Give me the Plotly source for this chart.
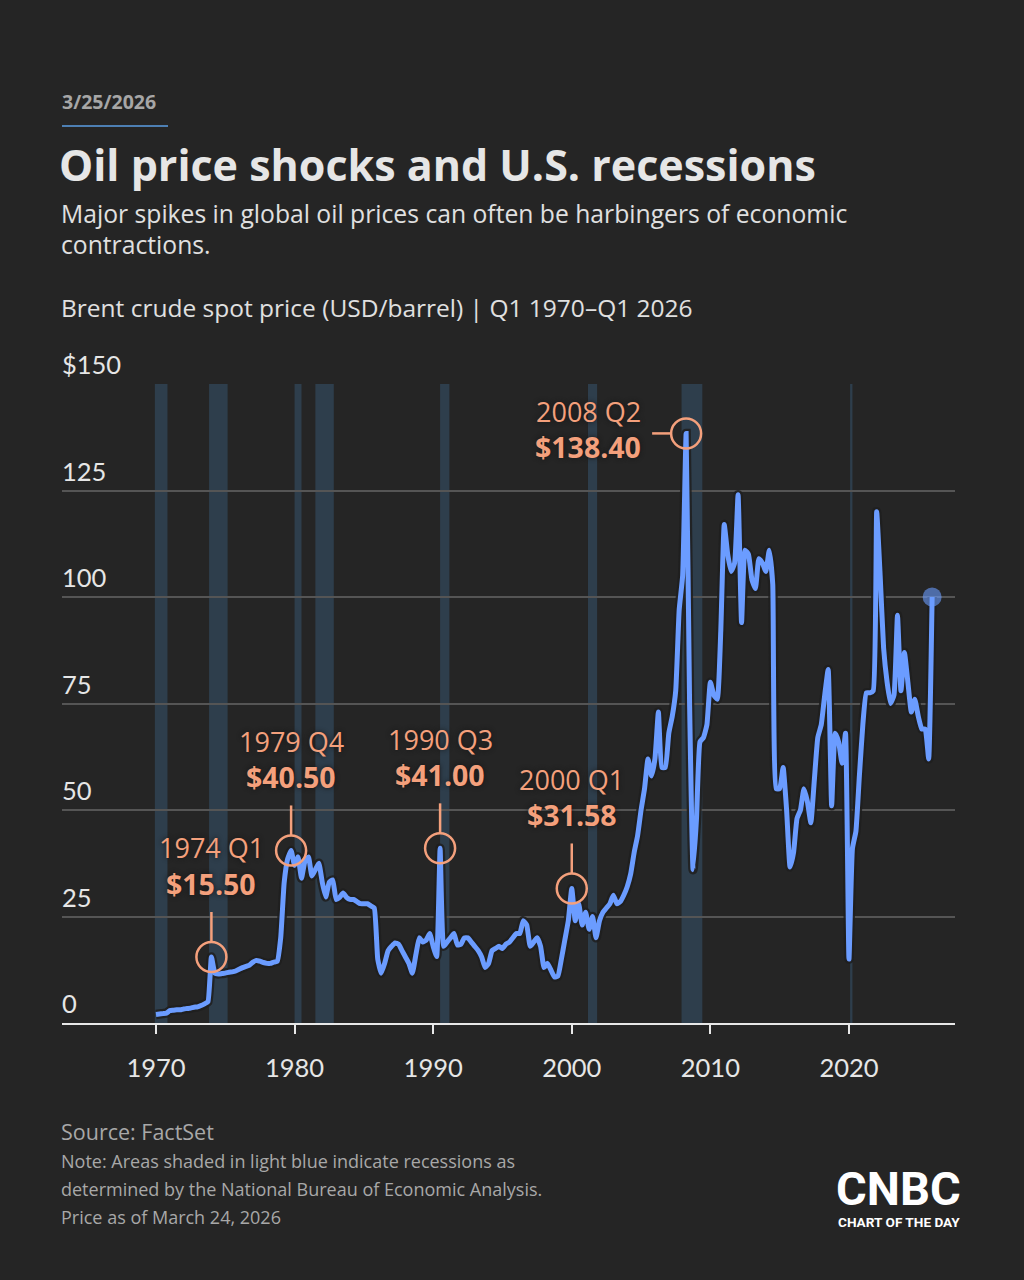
import plotly.graph_objects as go

# ---------------- data ----------------
start_year = 1970
prices_1970s = [2.0, 2.1, 2.2, 2.3, 2.9, 3.0, 3.1, 3.1, 3.3, 3.4, 3.5, 3.7, 3.8, 4.1, 4.5, 5.0,
                15.5, 11.7, 11.5, 11.6, 11.7, 11.9, 12.0, 12.2, 12.6, 13.0, 13.3, 13.6,
                14.3, 14.7, 14.5, 14.2, 14.0, 14.0, 14.3, 14.5, 20.0, 33.0, 38.5, 40.5]
prices_1980s = [37.0, 39.0, 34.0, 38.0, 39.0, 34.5, 36.0, 37.5, 33.0, 29.6, 33.0, 33.6,
                29.0, 29.5, 30.5, 29.5, 29.0, 29.0, 28.5, 28.0, 28.0, 28.0, 27.5, 27.0,
                15.0, 11.7, 14.0, 17.0, 18.0, 18.8, 18.5, 17.0, 15.5, 14.0, 11.7, 16.0,
                20.0, 19.0, 19.5, 21.0]
prices_1990s = [18.0, 15.6, 41.0, 18.0, 19.0, 20.0, 21.0, 18.3, 18.5, 20.0, 20.0, 19.0,
                18.0, 17.0, 15.5, 13.0, 14.0, 17.0, 17.5, 18.0, 17.5, 18.5, 19.0, 20.0,
                21.0, 21.0, 24.0, 23.0, 18.0, 19.0, 20.0, 18.0, 13.0, 14.0, 12.4, 10.8,
                11.0, 15.0, 19.5, 24.0]
prices_2000s = [31.58, 24.0, 28.0, 23.0, 26.0, 22.0, 25.0, 20.0, 24.0, 26.0, 27.0, 28.0,
                30.0, 28.0, 28.5, 30.0, 32.0, 35.0, 40.0, 44.0, 50.0, 55.0, 62.0, 58.0,
                62.0, 73.0, 60.0, 60.0, 68.0, 72.0, 78.0, 97.0, 105.0, 138.4, 75.0, 36.0,
                48.0, 66.0, 67.0, 70.0]
prices_2010s = [80.0, 77.0, 76.0, 92.0, 117.0, 110.0, 106.0, 108.0, 124.0, 94.0, 111.0, 110.0,
                104.0, 102.0, 109.0, 108.0, 106.0, 111.0, 103.0, 55.0, 55.0, 60.0, 50.0, 36.6,
                40.0, 48.0, 50.0, 55.0, 52.0, 47.0, 57.0, 67.0, 70.0, 77.0, 83.0, 51.0,
                68.0, 66.0, 61.0, 68.0]
prices_2020s = [15.0, 41.0, 45.0, 58.0, 70.0, 77.5, 77.5, 78.0, 120.0, 105.0, 88.0, 80.0,
                75.0, 77.0, 95.7, 78.0, 87.0, 80.0, 73.0, 76.0, 72.0, 69.0, 69.0, 62.0,
                100.0]

recession_starts = [1969.92, 1973.83, 1980.00, 1981.50, 1990.50, 2001.17, 2007.92, 2020.08]
recession_ends = [1970.83, 1975.17, 1980.50, 1982.83, 1991.17, 2001.83, 2009.42, 2020.25]

highlight_quarters = ["1974 Q1", "1979 Q4", "1990 Q3", "2000 Q1", "2008 Q2"]
highlight_prices = [15.50, 40.50, 41.00, 31.58, 138.40]

y_ticks = [0, 25, 50, 75, 100, 125, 150]
y_tick_labels = ["0", "25", "50", "75", "100", "125", "$150"]
x_ticks = [1970, 1980, 1990, 2000, 2010, 2020]
x_tick_labels = ["1970", "1980", "1990", "2000", "2010", "2020"]

# ---------------- build ----------------
prices = prices_1970s + prices_1980s + prices_1990s + prices_2000s + prices_2010s + prices_2020s
xq = [start_year + i / 4 for i in range(len(prices))]

def qpos(label):
    y, q = label.split(" Q")
    return int(y) + (int(q) - 1) / 4

BG = "#252525"
BLUE = "#6b9cff"
ORANGE = "#f4a07c"
FONT = "Lato"
TFONT = "Open Sans"

W, H = 1024, 1280
L, R, T, B = 62, 955, 384, 1023

def px(x):
    return (x - L) / (R - L)

def py(y):
    return (B - y) / (B - T)

fig = go.Figure()

# halo under line
fig.add_trace(go.Scatter(x=xq, y=prices, mode="lines",
                         line=dict(color="rgba(30,30,30,0.85)", width=9.5, shape="spline", smoothing=0.4),
                         hoverinfo="skip", showlegend=False))
fig.add_trace(go.Scatter(x=xq, y=prices, mode="lines",
                         line=dict(color=BLUE, width=5, shape="spline", smoothing=0.4),
                         showlegend=False))
# end point
fig.add_trace(go.Scatter(x=[xq[-1]], y=[prices[-1]], mode="markers",
                         marker=dict(size=19, color="rgba(107,156,255,0.6)"),
                         showlegend=False, cliponaxis=False))
# highlight circles
hx = [qpos(q) for q in highlight_quarters]
fig.add_trace(go.Scatter(x=hx, y=highlight_prices, mode="markers",
                         marker=dict(symbol="circle-open", size=30,
                                     line=dict(color=ORANGE, width=2.5), color=ORANGE),
                         showlegend=False, cliponaxis=False))

shapes = []
for s, e in zip(recession_starts, recession_ends):
    shapes.append(dict(type="rect", xref="x", yref="y", x0=s, x1=e, y0=0, y1=150,
                       fillcolor="rgba(70,130,180,0.27)", line=dict(width=0), layer="below"))

annotations = []
shadow = "0px 0px 5px #151515"
LF = dict(family=TFONT, size=27, color=ORANGE, shadow=shadow)
BF = dict(family=TFONT, size=28.5, color=ORANGE, shadow=shadow)
for q, p, x in zip(highlight_quarters, highlight_prices, hx):
    if q == "2008 Q2":
        shapes.append(dict(type="line", xref="x", yref="y", xsizemode="pixel", xanchor=x,
                           x0=-34, x1=-15, y0=p, y1=p,
                           line=dict(color=ORANGE, width=2.5)))
        annotations.append(dict(x=x, y=p, xref="x", yref="y", text=q, showarrow=False,
                                xanchor="right", yanchor="middle", xshift=-43, yshift=22,
                                font=LF))
        annotations.append(dict(x=x, y=p, xref="x", yref="y", text="<b>$%.2f</b>" % p,
                                showarrow=False, xanchor="right", yanchor="middle",
                                xshift=-43, yshift=-14, font=BF))
    else:
        shapes.append(dict(type="line", xref="x", yref="y", ysizemode="pixel", yanchor=p,
                           x0=x, x1=x, y0=15, y1=45,
                           line=dict(color=ORANGE, width=2.5)))
        annotations.append(dict(x=x, y=p, xref="x", yref="y", text=q, showarrow=False,
                                xanchor="center", yanchor="middle", yshift=109, font=LF))
        annotations.append(dict(x=x, y=p, xref="x", yref="y", text="<b>$%.2f</b>" % p,
                                showarrow=False, xanchor="center", yanchor="middle",
                                yshift=73, font=BF))

# y tick labels above gridlines
for v, t in zip(y_ticks, y_tick_labels):
    annotations.append(dict(x=0, xref="paper", y=v, yref="y", text=t, showarrow=False,
                            xanchor="left", yanchor="middle", yshift=20, xshift=-2,
                            font=dict(family=FONT, size=25.5, color="#e6e6e6")))

# header / footer
hdr = [
    dict(x=px(60), y=py(101), text="<b>3/25/2026</b>", font=dict(family=TFONT, size=19.5, color="#a6a6a6")),
    dict(x=px(57), y=py(165), text="<b>Oil price shocks and U.S. recessions</b>",
         font=dict(family=TFONT, size=43, color="#e6e6e6")),
    dict(x=px(59), y=py(214), text="Major spikes in global oil prices can often be harbingers of economic",
         font=dict(family=TFONT, size=24.7, color="#e0e0e0")),
    dict(x=px(59), y=py(245), text="contractions.", font=dict(family=TFONT, size=24.7, color="#e0e0e0")),
    dict(x=px(59), y=py(307), text="Brent crude spot price (USD/barrel) | Q1 1970–Q1 2026",
         font=dict(family=TFONT, size=24.5, color="#e0e0e0")),
    dict(x=px(59), y=py(1131), text="Source: FactSet", font=dict(family=TFONT, size=21.5, color="#a8a8a8")),
    dict(x=px(59), y=py(1161), text="Note: Areas shaded in light blue indicate recessions as",
         font=dict(family=TFONT, size=18, color="#a8a8a8")),
    dict(x=px(59), y=py(1189), text="determined by the National Bureau of Economic Analysis.",
         font=dict(family=TFONT, size=18, color="#a8a8a8")),
    dict(x=px(59), y=py(1217), text="Price as of March 24, 2026", font=dict(family=TFONT, size=18, color="#a8a8a8")),
]
for a in hdr:
    a.update(xref="paper", yref="paper", xanchor="left", yanchor="middle", showarrow=False)
annotations += hdr

# CNBC logo text
annotations += [
    dict(x=px(963), y=py(1188), xref="paper", yref="paper", xanchor="right", yanchor="middle",
         text="<b>CNBC</b>", showarrow=False, font=dict(family="Roboto", size=47, color="#ffffff")),
    dict(x=px(962), y=py(1222), xref="paper", yref="paper", xanchor="right", yanchor="middle",
         text="<b>CHART OF THE DAY</b>", showarrow=False, font=dict(family="Roboto", size=13.6, color="#ffffff")),
]

# date underline
shapes.append(dict(type="line", xref="paper", yref="paper", x0=px(62), x1=px(168),
                   y0=py(126), y1=py(126), line=dict(color="#4d7fb3", width=2)))

fig.update_layout(
    width=W, height=H,
    margin=dict(l=L, r=W - R, t=T, b=H - B, pad=0),
    paper_bgcolor=BG, plot_bgcolor=BG,
    shapes=shapes, annotations=annotations,
    showlegend=False,
    xaxis=dict(range=[1963.22, 2027.65], tickvals=x_ticks, ticktext=x_tick_labels,
               showgrid=False, zeroline=False, showline=True, linecolor="#e8e8e8", linewidth=2,
               ticks="outside", ticklen=9, tickwidth=2, tickcolor="#e8e8e8",
               tickfont=dict(family=FONT, size=25.5, color="#e6e6e6"), ticklabelstandoff=12),
    yaxis=dict(range=[0, 150], tickvals=y_ticks, showticklabels=False, showgrid=True,
               gridcolor="#555555", gridwidth=1.5, zeroline=False, showline=False),
)

fig.write_html("out.html")
